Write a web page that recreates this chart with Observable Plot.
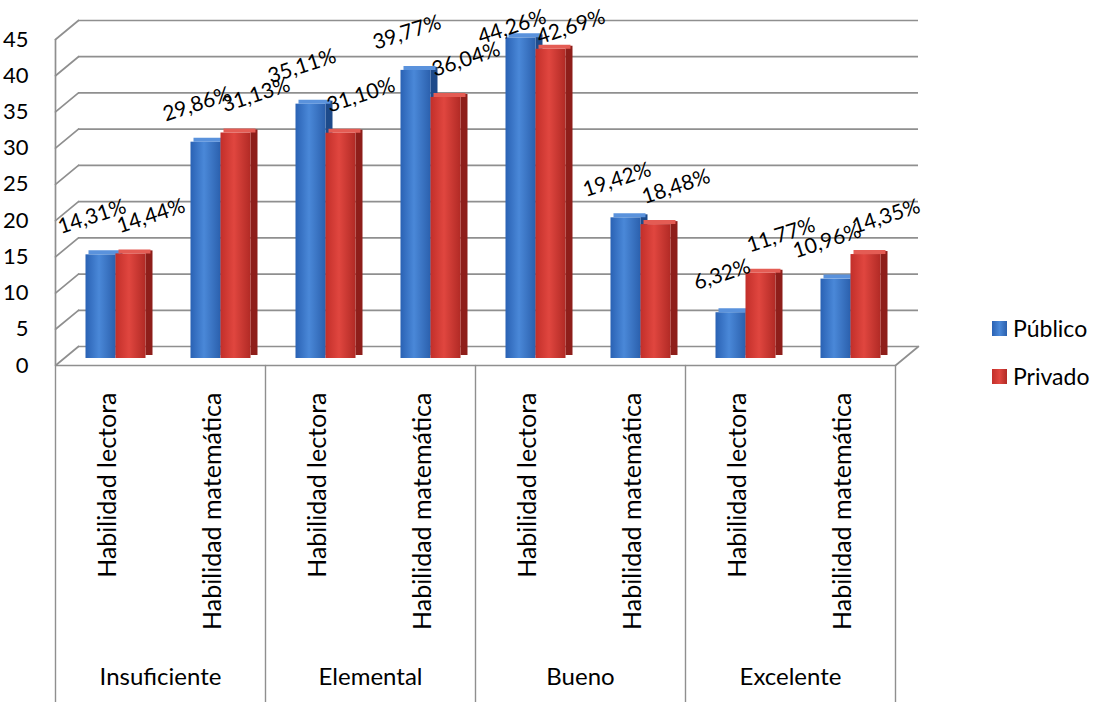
<!DOCTYPE html>
<html><head><meta charset="utf-8">
<script src="https://cdn.jsdelivr.net/npm/d3@7"></script>
<script src="https://cdn.jsdelivr.net/npm/@observablehq/plot@0.6"></script>
<style>
body{margin:0;background:#fff;}
#wrap{position:relative;width:1095px;height:702px;overflow:hidden;}
.leg{position:absolute;left:992px;font:23px Lato, sans-serif;display:flex;align-items:center;color:#000;}
.sw{width:15px;height:15px;margin-right:6px;}
</style></head><body><div id="wrap"></div>
<script>
const groups = ["Insuficiente", "Elemental", "Bueno", "Excelente"];
const skills = ["Habilidad lectora", "Habilidad matemática"];
const publico = [14.31, 29.86, 35.11, 39.77, 44.26, 19.42, 6.32, 10.96];
const privado = [14.44, 31.13, 31.10, 36.04, 42.69, 18.48, 11.77, 14.35];
const seriesNames = ["Público", "Privado"];
const yTicks = [0, 5, 10, 15, 20, 25, 30, 35, 40, 45];

const cats = groups.flatMap(g => skills.map(s => ({key: g + "|" + s, group: g, skill: s})));
const rows = cats.map((c, i) => ({...c, publico: publico[i], privado: privado[i]}));
const firstKey = cats[0].key, lastKey = cats[cats.length - 1].key;
const fmt = v => v.toFixed(2).replace(".", ",") + "%";
// labels near the top are kept inside the chart area (as the original does)
const labelY = v => Math.min(v, 40.5);
const line = {draw(ctx, l) { ctx.moveTo(0, 0); ctx.lineTo(0, -l); }};
const grid = "#8f8f8f";
const half = 52.5;

const chart = Plot.plot({
  width: 1095, height: 702,
  marginLeft: 55, marginRight: 200, marginTop: 32, marginBottom: 344,
  style: {fontFamily: "Lato, sans-serif", fontSize: "21px", background: "white", color: "black"},
  x: {type: "band", domain: cats.map(c => c.key), padding: 0, axis: null},
  y: {domain: [0, 45], axis: null},
  marks: [
    // back wall gridlines
    Plot.ruleY(yTicks, {dx: 23, dy: -12, stroke: grid, strokeWidth: 1.7}),
    // side wall diagonals
    Plot.vector(yTicks, {x: () => firstKey, y: d => d, dx: -half, dy: 7, length: 29.8, rotate: 50.4, anchor: "start", shape: line, stroke: grid, strokeWidth: 1.7}),
    // floor front edge & right diagonal
    Plot.ruleY([0], {dy: 7, stroke: grid, strokeWidth: 1.7}),
    Plot.vector([0], {x: () => lastKey, y: d => d, dx: half, dy: 7, length: 29.8, rotate: 50.4, anchor: "start", shape: line, stroke: grid, strokeWidth: 1.7}),
    // left wall front edge
    Plot.ruleX([firstKey], {dx: -half, y1: 0, y2: 45, dy: 7, stroke: grid, strokeWidth: 1.7}),
    // category separators below the floor
    Plot.vector(rows.filter(r => r.skill === skills[0]), {x: "key", y: () => 0, dx: -half, dy: 7, length: 337, rotate: 180, anchor: "start", shape: line, stroke: grid, strokeWidth: 1.4}),
    Plot.vector([lastKey], {x: d => d, y: () => 0, dx: half, dy: 7, length: 337, rotate: 180, anchor: "start", shape: line, stroke: grid, strokeWidth: 1.4}),
    // bars: Público (side, front, top)
    Plot.barY(rows, {x: "key", y: "publico", dy: -3, insetLeft: 60.5, insetRight: 37.5, fill: "#1d4a8a"}),
    Plot.barY(rows, {x: "key", y: "publico", insetLeft: 30.5, insetRight: 44.5, fill: "url(#gBlue)"}),
    Plot.tickY(rows, {x: "key", y: "publico", dy: -2.5, insetLeft: 33.5, insetRight: 39.5, stroke: "#5a92dc", strokeWidth: 4}),
    // bars: Privado (side, front, top)
    Plot.barY(rows, {x: "key", y: "privado", dy: -3, insetLeft: 90.5, insetRight: 7.5, fill: "#8e1e1a"}),
    Plot.barY(rows, {x: "key", y: "privado", insetLeft: 60.5, insetRight: 14.5, fill: "url(#gRed)"}),
    Plot.tickY(rows, {x: "key", y: "privado", dy: -2.5, insetLeft: 63.5, insetRight: 9.5, stroke: "#e45c54", strokeWidth: 4}),
    // value labels
    Plot.text(rows, {x: "key", y: d => labelY(d.publico), text: d => fmt(d.publico), dx: -16, dy: -38, rotate: -18, fontSize: 21, fill: "black"}),
    Plot.text(rows, {x: "key", y: d => labelY(d.privado), text: d => fmt(d.privado), dx: 43, dy: -38, rotate: -18, fontSize: 21, fill: "black"}),
    // y axis labels (front)
    Plot.axisY(yTicks, {tickSize: 0, tickPadding: 27, dy: 7, fontSize: 22, label: null}),
    // category labels
    Plot.text(rows, {x: "key", y: () => 0, text: "skill", rotate: -90, textAnchor: "end", lineAnchor: "middle", dy: 34, fontSize: 25, fill: "black"}),
    Plot.text(rows.filter(r => r.skill === skills[0]), {x: "key", y: () => 0, text: "group", dx: half, dy: 319, lineAnchor: "middle", fontSize: 24, fill: "black"})
  ]
});

const defs = d3.select(chart).insert("defs", ":first-child");
function grad(id, stops) {
  const g = defs.append("linearGradient").attr("id", id).attr("x1", "0").attr("x2", "1").attr("y1", "0").attr("y2", "0");
  stops.forEach(([o, c]) => g.append("stop").attr("offset", o).attr("stop-color", c));
}
grad("gBlue", [["0", "#2a62b4"], ["0.45", "#4a88d8"], ["1", "#2b60ad"]]);
grad("gRed", [["0", "#c22f2a"], ["0.45", "#e0463f"], ["1", "#b12a25"]]);

const wrap = document.getElementById("wrap");
wrap.appendChild(chart);
const legFill = ["linear-gradient(90deg,#2a62b4,#4a88d8,#2b60ad)", "linear-gradient(90deg,#c22f2a,#e0463f,#b12a25)"];
seriesNames.forEach((n, i) => {
  const d = document.createElement("div");
  d.className = "leg";
  d.style.top = (314 + i * 48) + "px";
  d.innerHTML = `<div class="sw" style="background:${legFill[i]}"></div><span>${n}</span>`;
  wrap.appendChild(d);
});
</script>
</body></html>
